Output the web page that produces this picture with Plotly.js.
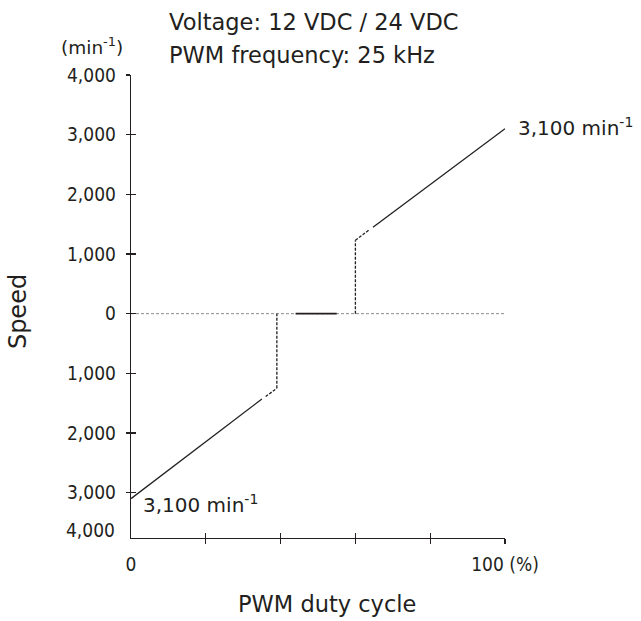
<!DOCTYPE html>
<html>
<head>
<meta charset="utf-8">
<script src="https://cdn.plot.ly/plotly-3.0.1.min.js"></script>
<style>
html,body{margin:0;padding:0;background:#fff;}
#chart{width:641px;height:621px;}
</style>
</head>
<body>
<div id="chart"></div>
<script>
// ---- data ----
const yTickVals = [4000, 3000, 2000, 1000, 0, -1000, -2000, -3000];
const yTickText = ["4,000", "3,000", "2,000", "1,000", "0", "1,000", "2,000", "3,000"];
const xTickVals = [0, 100];
const xTickText = ["0", "100 (%)"];
const xMinorTicks = [20, 40, 60, 80, 100];
const yBottomLabel = "4,000";

// reverse branch (negative speed)
const revSolidX = [0, 35];
const revSolidY = [-3100, -1430];
const revDashX = [36, 39];
const revDashY = [-1390, -1250];
const revVertX = [39, 39];
const revVertY = [-1250, 0];
// zero line and stop zone
const zeroX = [0, 100];
const zeroY = [0, 0];
const stopX = [44, 55];
const stopY = [0, 0];
// forward branch
const fwdVertX = [60, 60];
const fwdVertY = [0, 1230];
const fwdDashX = [60, 63.6];
const fwdDashY = [1230, 1400];
const fwdSolidX = [64.7, 100];
const fwdSolidY = [1450, 3100];

const INK = "#231f20";
const TXT = "DejaVu Sans, Liberation Sans, sans-serif";
const TICKF = "DejaVu Sans Condensed, Liberation Sans Narrow, sans-serif";

function seg(x, y, dash, color, width) {
  return {x: x, y: y, type: "scatter", mode: "lines", hoverinfo: "skip",
    line: {color: color || INK, width: width || 1.3, dash: dash || "solid"}};
}

const traces = [
  seg(zeroX, zeroY, "3px,2px", "#8a8a8a", 1),
  seg(stopX, stopY, "solid", INK, 1.6),
  seg(revSolidX, revSolidY),
  seg(revDashX, revDashY, "3px,1.5px"),
  seg(revVertX, revVertY, "3px,1.5px"),
  seg(fwdVertX, fwdVertY, "3px,1.5px"),
  seg(fwdDashX, fwdDashY, "3px,1.5px"),
  seg(fwdSolidX, fwdSolidY),
  {x: [0], y: [0], xaxis: "x2", yaxis: "y2", type: "scatter", mode: "markers", marker: {opacity: 0}, hoverinfo: "skip"},
  {x: [0], y: [0], xaxis: "x3", yaxis: "y3", type: "scatter", mode: "markers", marker: {opacity: 0}, hoverinfo: "skip"}
];

const XR = [0, 100];
const YR = [-3760, 4000];

const layout = {
  width: 641, height: 621,
  margin: {l: 131, r: 136, t: 75, b: 83},
  paper_bgcolor: "#fff", plot_bgcolor: "#fff",
  showlegend: false,
  font: {family: TXT, color: INK, size: 20},
  xaxis: {range: XR, tickvals: xTickVals, ticktext: xTickText, showgrid: false, zeroline: false,
    showline: true, linecolor: INK, linewidth: 1.3, ticks: "outside", ticklen: 9, tickcolor: "rgba(0,0,0,0)",
    tickfont: {family: TICKF, size: 19, color: INK}, fixedrange: true},
  yaxis: {range: YR, tickvals: yTickVals, ticktext: yTickText, showgrid: false, zeroline: false,
    showline: true, linecolor: INK, linewidth: 1.3, ticks: "outside", ticklen: 10, tickcolor: "rgba(0,0,0,0)",
    tickfont: {family: TICKF, size: 19, color: INK}, fixedrange: true},
  xaxis2: {range: XR, overlaying: "x", anchor: "y", side: "bottom", tickvals: xMinorTicks, ticks: "outside",
    ticklen: 5, tickwidth: 1.3, tickcolor: INK, showticklabels: false, showgrid: false, zeroline: false, showline: false},
  xaxis3: {range: XR, overlaying: "x", anchor: "y", side: "bottom", tickvals: xMinorTicks, ticks: "inside",
    ticklen: 5, tickwidth: 1.3, tickcolor: INK, showticklabels: false, showgrid: false, zeroline: false, showline: false},
  yaxis2: {range: YR, overlaying: "y", anchor: "x", side: "left", tickvals: yTickVals, ticks: "outside",
    ticklen: 4, tickwidth: 1.3, tickcolor: INK, showticklabels: false, showgrid: false, zeroline: false, showline: false},
  yaxis3: {range: YR, overlaying: "y", anchor: "x", side: "left", tickvals: yTickVals, ticks: "inside",
    ticklen: 5, tickwidth: 1.3, tickcolor: INK, showticklabels: false, showgrid: false, zeroline: false, showline: false},
  annotations: [
    {text: "Voltage: 12 VDC / 24 VDC", xref: "paper", yref: "paper", x: 0.096, y: 1.115,
      xanchor: "left", yanchor: "middle", showarrow: false, font: {size: 22.5}},
    {text: "PWM frequency: 25 kHz", xref: "paper", yref: "paper", x: 0.096, y: 1.043,
      xanchor: "left", yanchor: "middle", showarrow: false, font: {size: 22.5}},
    {text: "(min<sup>-1</sup>)", xref: "paper", yref: "paper", x: -0.017, y: 1.062,
      xanchor: "right", yanchor: "middle", showarrow: false, font: {size: 18.5}},
    {text: "3,100 min<sup>-1</sup>", xref: "x", yref: "y", x: fwdSolidX[1], y: fwdSolidY[1],
      xanchor: "left", yanchor: "middle", xshift: 11, yshift: 2, showarrow: false, font: {size: 20}},
    {text: "3,100 min<sup>-1</sup>", xref: "x", yref: "y", x: revSolidX[0], y: revSolidY[0],
      xanchor: "left", yanchor: "middle", xshift: 10, yshift: -5, showarrow: false, font: {size: 20}},
    {text: "Forward", xref: "x", yref: "y", x: 103.5, y: 930,
      xanchor: "left", yanchor: "middle", showarrow: false, font: {size: 22.5}},
    {text: "Reverse", xref: "x", yref: "y", x: 103.5, y: -780,
      xanchor: "left", yanchor: "middle", showarrow: false, font: {size: 22.5}},
    {text: "Speed", xref: "paper", yref: "paper", x: -0.302, y: 0.488, textangle: -90,
      xanchor: "center", yanchor: "middle", showarrow: false, font: {size: 24}},
    {text: "PWM duty cycle", xref: "paper", yref: "paper", x: 0.525, y: -0.143,
      xanchor: "center", yanchor: "middle", showarrow: false, font: {size: 22.5}},
    {text: yBottomLabel, xref: "paper", yref: "y", x: -0.037, y: YR[0], yshift: 8,
      xanchor: "right", yanchor: "middle", showarrow: false, font: {family: TICKF, size: 19}}
  ]
};

Plotly.newPlot("chart", traces, layout, {staticPlot: true, displayModeBar: false});
</script>
</body>
</html>
